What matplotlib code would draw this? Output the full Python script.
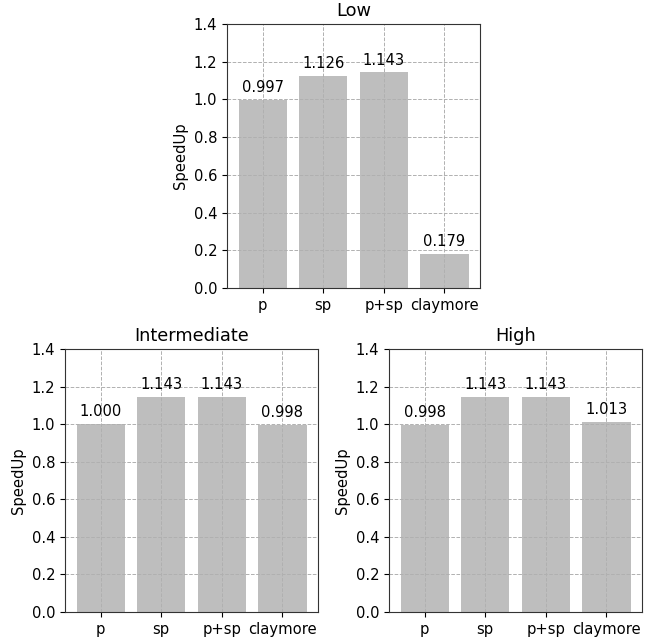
import numpy as np
import matplotlib
matplotlib.use('Agg')
from matplotlib import pyplot as plt

# Speedup per configuration, one array per workload level
methods = ['p', 'sp', 'p+sp', 'claymore']
low = [0.997, 1.126, 1.143, 0.179]
intermediate = [1.000, 1.143, 1.143, 0.998]
high = [0.998, 1.143, 1.143, 1.013]

plt.rcParams['font.size'] = 10.6

def draw(ax, values, title):
    xs = np.arange(len(methods))
    bars = ax.bar(xs, values, width=0.8, color='#bebebe', zorder=1)
    for b, v in zip(bars, values):
        ax.annotate('{:.3f}'.format(v), (b.get_x() + b.get_width() / 2, v),
                    xytext=(0, 3.5), textcoords='offset points',
                    ha='center', va='bottom', fontsize=10.6)
    ax.set_xticks(xs)
    ax.set_xticklabels(methods)
    ax.set_ylim(0, 1.4)
    ax.set_yticks(np.arange(0, 1.41, 0.2))
    ax.set_ylabel('SpeedUp')
    ax.set_title(title, fontsize=12.8)
    # grid above the bars but under the frame
    ax.set_axisbelow('line')
    ax.grid(True, linestyle='--', color='#b0b0b0', linewidth=0.7)
    for s in ax.spines.values():
        s.set_color('#333333')

fig = plt.figure(figsize=(6.54, 6.39), dpi=100)
W, H = 654.0, 639.0
ax1 = fig.add_axes([227 / W, 1 - 288 / H, 253 / W, 264 / H])
ax2 = fig.add_axes([65 / W, 1 - 612 / H, 253 / W, 263 / H])
ax3 = fig.add_axes([389 / W, 1 - 612 / H, 253 / W, 263 / H])

draw(ax1, low, 'Low')
draw(ax2, intermediate, 'Intermediate')
draw(ax3, high, 'High')

fig.savefig('out.png', dpi=100)
